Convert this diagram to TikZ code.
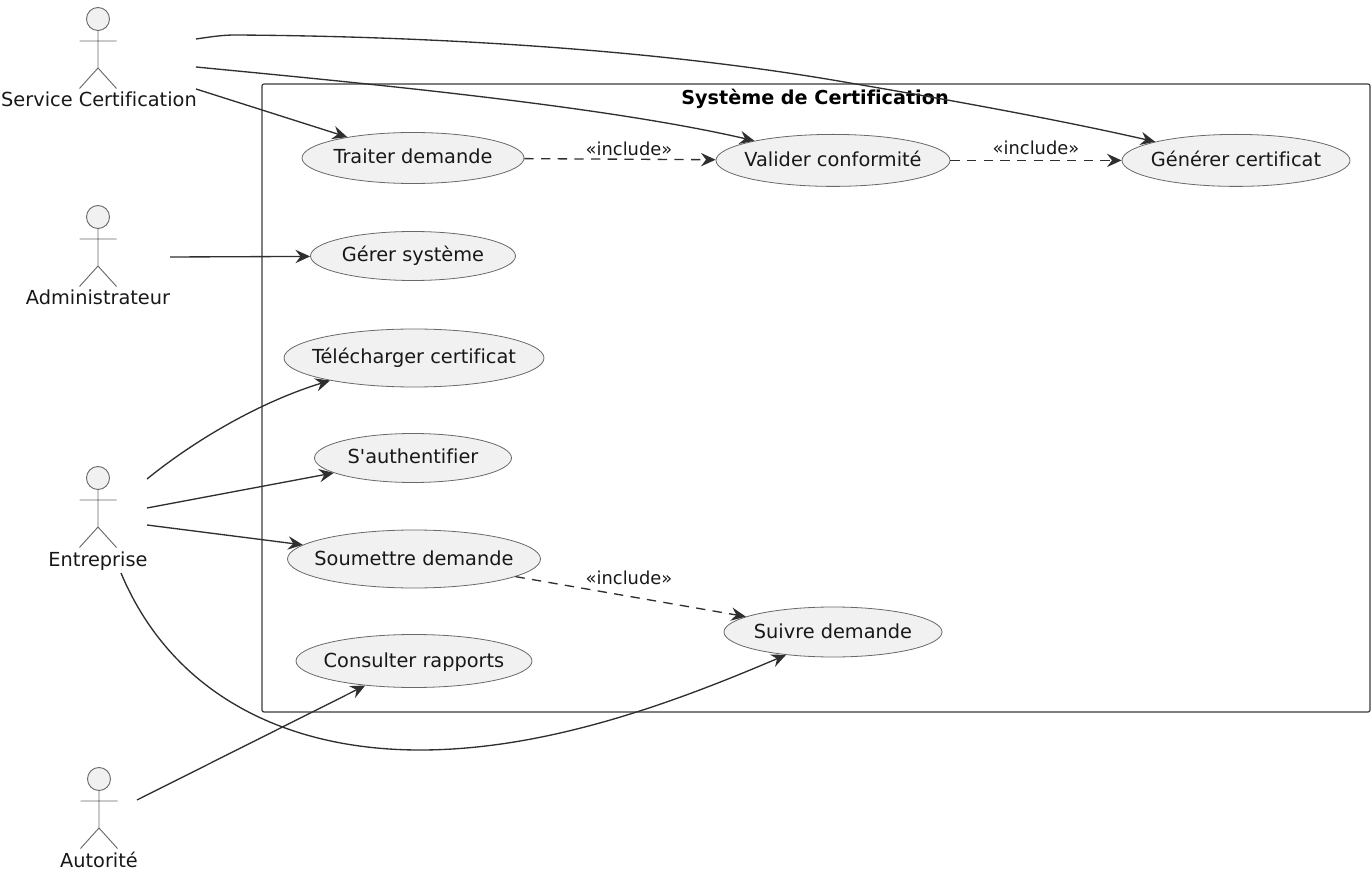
\documentclass[tikz,border=0pt]{standalone}
\usepackage{xcolor}
\usepackage{fontspec}
\setmainfont[Ligatures=NoCommon]{DejaVu Sans}
\usetikzlibrary{shapes.geometric, arrows.meta, positioning}
\definecolor{usefill}{RGB}{241, 241, 241}
\definecolor{useline}{RGB}{24, 24, 24}
\definecolor{actorline}{RGB}{105, 105, 105}
\newcommand{\usename}[1]{\makebox[0pt]{#1}}

\begin{document}
\begin{tikzpicture}[
    x=0.75pt, y=-0.75pt,
    usecase/.style={draw=actorline, fill=usefill, ellipse, inner sep=0pt, line width=0.6pt, text=useline, font=\fontsize{14.5}{17}\selectfont, text height=12pt, text depth=3pt},
    actorname/.style={inner sep=0pt, text=useline, font=\fontsize{14.5}{17}\selectfont, text height=11pt, text depth=3pt},
    sysbox/.style={draw=useline!85, line width=0.9pt, rounded corners=1.5pt},
    systitle/.style={inner sep=0pt, text=black, font=\fontsize{14.4}{17}\selectfont\bfseries},
    stereo/.style={inner sep=0pt, text=useline, font=\fontsize{13.4}{16}\selectfont},
    arrow/.style={-{Stealth[length=11pt, width=10pt, inset=3.8pt]}, draw=useline!90, line width=1pt},
    incl/.style={arrow, dash pattern=on 7pt off 5.5pt},
    actor/.pic={
        \draw[draw=actorline, line width=0.7pt, fill=usefill] (0,0) circle (11.5);
        \draw[draw=actorline, line width=0.7pt] (0,11.5) -- (0,49) (-18.5,22) -- (18.5,22) (-18.5,69.5) -- (0,49) -- (18.5,69.5);
    }
]
    \useasboundingbox (0,0) rectangle (1371,873);

    \node[sysbox, minimum width=831pt, minimum height=471pt] (system) at (816,398) {};
    \node[systitle] (systemtitle) at (815,99) {Système de Certification};

    \pic at (98,19) {actor};
    \pic at (98,217) {actor};
    \pic at (98,478) {actor};
    \pic at (99,779) {actor};
    \node[actorname] (service) at (99,101) {Service Certification};
    \node[actorname] (admin) at (98,299) {Administrateur};
    \node[actorname] (entreprise) at (98,561) {Entreprise};
    \node[actorname] (autorite) at (99,862) {Autorité};

    \coordinate (serviceA) at (196,39);
    \coordinate (serviceB) at (196,67);
    \coordinate (serviceC) at (196,89);
    \coordinate (adminA) at (170,257);
    \coordinate (entrepriseA) at (147,479);
    \coordinate (entrepriseB) at (147,508);
    \coordinate (entrepriseC) at (147,525);
    \coordinate (entrepriseD) at (121,573);
    \coordinate (autoriteA) at (137,800);

    \node[usecase, minimum width=166.5pt, minimum height=38.25pt] (traiter) at (413,158) {\usename{Traiter demande}};
    \node[usecase, minimum width=175.5pt, minimum height=39pt] (valider) at (833,160.4) {\usename{Valider conformité}};
    \node[usecase, minimum width=171pt, minimum height=39pt] (generer) at (1236,160.4) {\usename{Générer certificat}};
    \node[usecase, minimum width=153.75pt, minimum height=36.75pt] (gerer) at (413,256) {\usename{Gérer système}};
    \node[usecase, minimum width=195pt, minimum height=43.5pt] (telecharger) at (414,358) {\usename{Télécharger certificat}};
    \node[usecase, minimum width=147.75pt, minimum height=36.75pt] (authentifier) at (413,458) {\usename{S\textquotesingle authentifier}};
    \node[usecase, minimum width=189.75pt, minimum height=43.5pt] (soumettre) at (414,559) {\usename{Soumettre demande}};
    \node[usecase, minimum width=163.5pt, minimum height=37.5pt] (suivre) at (833,632) {\usename{Suivre demande}};
    \node[usecase, minimum width=177pt, minimum height=39.75pt] (consulter) at (414,661) {\usename{Consulter rapports}};

    \draw[arrow] (serviceA) .. controls (210,37) and (222,35) .. (235,35) .. controls (400,36) and (640,46) .. (850,83) .. controls (950,100) and (1060,120) .. (generer.167);
    \draw[arrow] (serviceB) .. controls (350,82) and (600,105) .. (valider.166);
    \draw[arrow] (serviceC) -- (traiter);
    \draw[arrow] (adminA) -- (gerer);
    \draw[arrow] (entrepriseA) .. controls (195,440) and (260,402) .. (telecharger.195);
    \draw[arrow] (entrepriseB) -- (authentifier);
    \draw[arrow] (entrepriseC) -- (soumettre);
    \draw[arrow] (entrepriseD) .. controls (170,690) and (280,750) .. (420,750) .. controls (550,750) and (680,700) .. (suivre.206);
    \draw[arrow] (autoriteA) -- (consulter);

    \draw[incl] (traiter) -- (valider);
    \draw[incl] (valider) -- (generer);
    \draw[incl] (soumettre) -- (suivre.170);
    \node[stereo] (inclA) at (629,149) {«include»};
    \node[stereo] (inclB) at (1036,148) {«include»};
    \node[stereo] (inclC) at (629,578) {«include»};
\end{tikzpicture}
\end{document}
